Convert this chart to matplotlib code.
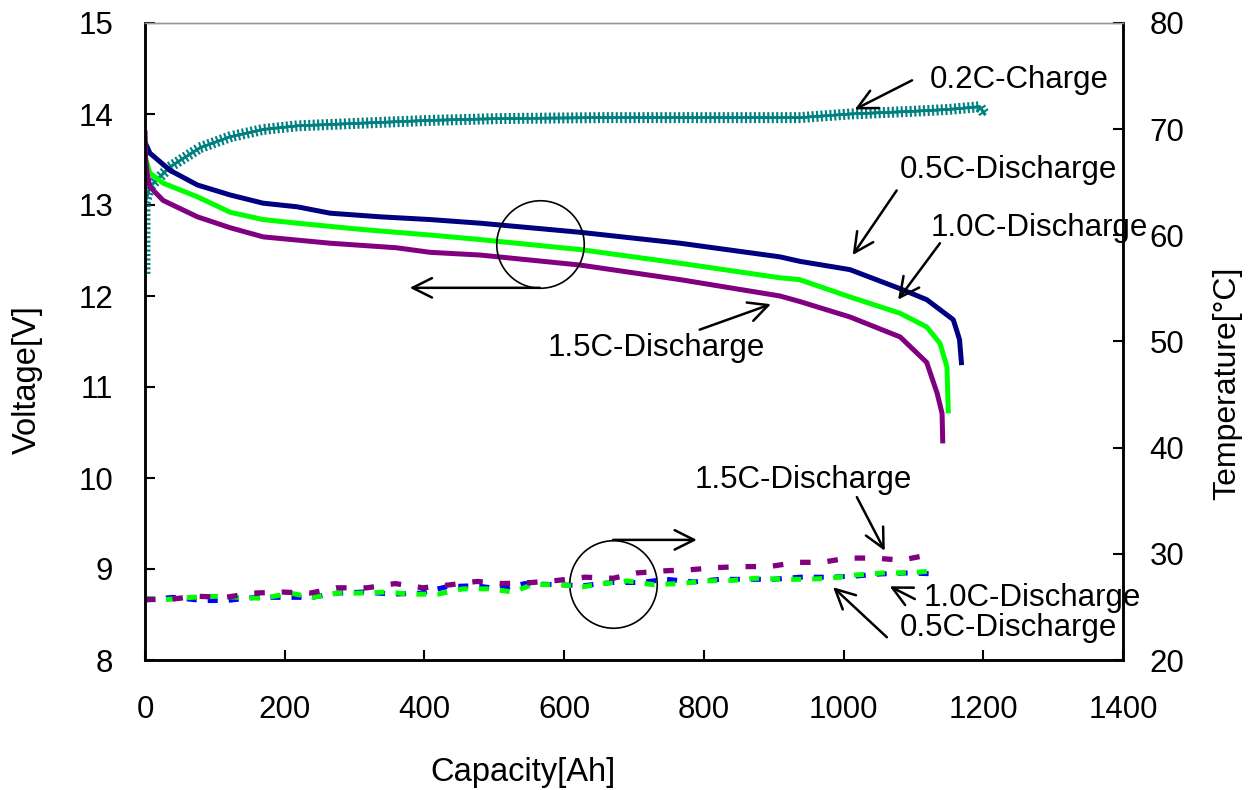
import matplotlib
matplotlib.use("Agg")
import matplotlib.pyplot as plt
import matplotlib.patheffects as pe

plt.rcParams['font.family'] = ['Liberation Sans', 'DejaVu Sans']

# Voltage curves (capacity [Ah], voltage [V])
chg_cap = [0, 0, 0, 7, 36, 79, 122, 169, 218, 312, 408, 508, 651, 800, 937, 1009, 1100, 1150, 1195, 1202]
chg_v = [12.23, 12.91, 13.02, 13.2, 13.42, 13.63, 13.75, 13.83, 13.87, 13.90, 13.93, 13.95, 13.96, 13.96,
         13.96, 14.0, 14.03, 14.05, 14.08, 14.0]

d05_cap = [0, 7, 36, 75, 122, 169, 218, 265, 337, 408, 480, 623, 766, 909, 938, 1009, 1081, 1119, 1157, 1162, 1166, 1169]
d05_v = [13.69, 13.57, 13.38, 13.22, 13.11, 13.02, 12.98, 12.91, 12.87, 12.84, 12.80, 12.70, 12.58, 12.43, 12.38,
         12.29, 12.08, 11.96, 11.74, 11.62, 11.52, 11.24]

d10_cap = [0, 7, 26, 75, 122, 169, 218, 312, 408, 480, 623, 766, 909, 937, 1009, 1081, 1119, 1138, 1148, 1150]
d10_v = [13.53, 13.35, 13.24, 13.09, 12.92, 12.84, 12.80, 12.73, 12.67, 12.62, 12.51, 12.36, 12.20, 12.18, 11.99,
         11.81, 11.66, 11.48, 11.22, 10.71]

d15_cap = [0, 1, 3, 7, 26, 75, 122, 169, 265, 360, 408, 480, 623, 766, 909, 937, 1009, 1081, 1119, 1134, 1141, 1142]
d15_v = [13.82, 13.5, 13.35, 13.2, 13.05, 12.87, 12.75, 12.65, 12.58, 12.53, 12.48, 12.45, 12.34, 12.18, 12.0,
         11.94, 11.77, 11.55, 11.27, 10.93, 10.71, 10.38]

# Temperature curves (capacity [Ah], temperature [°C])
t15_cap = [0, 33, 75, 115, 155, 196, 236, 275, 318, 358, 398, 439, 475, 512, 554, 591, 630, 670, 704, 744, 780,
           816, 854, 894, 933, 969, 1006, 1045, 1083, 1121]
t15_t = [25.7, 25.7, 26.0, 25.9, 26.3, 26.4, 26.3, 26.8, 26.8, 27.2, 26.8, 27.1, 27.4, 27.2, 27.3, 27.5, 27.8,
         27.7, 28.2, 28.4, 28.5, 28.7, 28.8, 28.8, 29.2, 29.2, 29.6, 29.6, 29.4, 29.9]

t05_cap = [0, 40, 82, 117, 157, 198, 239, 275, 312, 355, 394, 432, 472, 508, 544, 587, 627, 668, 708, 747, 785,
           823, 862, 899, 937, 980, 1016, 1052, 1092, 1134]
t05_t = [25.65, 25.9, 25.6, 25.6, 25.9, 25.9, 25.9, 26.3, 26.4, 26.2, 26.3, 26.9, 27.0, 26.7, 27.2, 27.1, 27.0,
         27.3, 27.3, 27.6, 27.35, 27.6, 27.6, 27.6, 27.8, 27.8, 27.9, 28.1, 28.2, 28.1]

t10_cap = [0, 31, 67, 100, 136, 169, 208, 239, 275, 308, 346, 379, 419, 455, 494, 527, 554, 591, 627, 656, 690,
           727, 766, 804, 842, 876, 913, 948, 980, 1016, 1056, 1095, 1128, 1134]
t10_t = [25.8, 25.7, 25.9, 26.0, 25.9, 25.8, 26.3, 25.9, 26.3, 26.3, 26.4, 26.2, 26.2, 26.7, 26.7, 26.4, 27.1,
         27.1, 26.9, 27.2, 27.45, 27.1, 27.2, 27.45, 27.5, 27.7, 27.6, 27.6, 27.7, 28.0, 28.2, 28.2, 28.4, 28.3]

fig = plt.figure(figsize=(12.49, 7.9), dpi=100)
ax = fig.add_axes([145 / 1249, 1 - 660 / 790, 978 / 1249, 637 / 790])
ax2 = ax.twinx()

# voltage
ax.plot(chg_cap, chg_v, color='#008080', lw=1.8,
        path_effects=[pe.withTickedStroke(angle=90, spacing=3.2, length=1.0, linewidth=1.5),
                      pe.withTickedStroke(angle=-90, spacing=3.2, length=1.0, linewidth=1.5),
                      pe.Normal()])
ax.plot(d05_cap, d05_v, color='#000080', lw=3.6, solid_capstyle='butt')
ax.plot(d10_cap, d10_v, color='#00FF00', lw=3.6, solid_capstyle='butt')
ax.plot(d15_cap, d15_v, color='#800080', lw=3.6, solid_capstyle='butt')

# temperature
ax2.plot(t05_cap, t05_t, color='#0000FF', lw=3.6, dashes=(2, 2.2))
ax2.plot(t10_cap, t10_t, color='#00FF00', lw=3.6, dashes=(2, 2.2))
ax2.plot(t15_cap, t15_t, color='#800080', lw=3.8, dashes=(2, 3.2))

ax.set_xlim(0, 1400)
ax.set_ylim(8, 15)
ax2.set_ylim(20, 80)
ax.set_xticks(range(0, 1401, 200))
ax.set_yticks(range(8, 16))
ax2.set_yticks(range(20, 81, 10))

ax.tick_params(axis='x', direction='in', length=7, width=1.5, labelsize=22.5, pad=25)
ax.tick_params(axis='y', direction='in', length=7, width=1.5, labelsize=22.5, pad=23)
ax2.tick_params(axis='y', direction='in', length=7, width=1.5, labelsize=22.5, pad=19)

for a in (ax, ax2):
    for s in ('left', 'bottom', 'right'):
        a.spines[s].set_linewidth(1.8)
    a.spines['top'].set_color('#999999')
    a.spines['top'].set_linewidth(1.0)

fig.text(27 / 1249, 1 - 380 / 790, 'Voltage[V]', rotation=90, ha='center', va='center', fontsize=23.5)
fig.text(1227 / 1249, 1 - 383 / 790, 'Temperature[°C]', rotation=90, ha='center', va='center', fontsize=23)
fig.text(523 / 1249, 1 - 772 / 790, 'Capacity[Ah]', ha='center', va='center', fontsize=23.5)

arrow = dict(arrowstyle='->,head_length=0.7,head_width=0.35', color='black', lw=1.8,
             mutation_scale=20, shrinkA=0, shrinkB=0)

# label arrows: (tail, tip)
arrows = [
    ((1098, 14.37), (1016, 14.05)),
    ((1076, 13.16), (1013, 12.45)),
    ((1138, 12.58), (1078, 11.96)),
    ((794, 11.63), (896, 11.91)),
    ((565, 12.09), (379, 12.09)),
    ((1019, 9.79), (1059, 9.20)),
    ((670, 9.32), (790, 9.32)),
    ((1102, 8.67), (1066, 8.81)),
    ((1062, 8.25), (985, 8.80)),
]
for tail, tip in arrows:
    ax.annotate('', xy=tip, xytext=tail, arrowprops=arrow, annotation_clip=False)

labels = [
    (1124, 14.37, '0.2C-Charge'),
    (1081, 13.38, '0.5C-Discharge'),
    (1124, 12.75, '1.0C-Discharge'),
    (577, 11.43, '1.5C-Discharge'),
    (787, 9.98, '1.5C-Discharge'),
    (1115, 8.68, '1.0C-Discharge'),
    (1081, 8.35, '0.5C-Discharge'),
]
for x, y, s in labels:
    ax.text(x, y, s, ha='left', va='center', fontsize=22.5, clip_on=False, zorder=5)

# circles
ax.plot([565], [12.57], 'o', ms=63, mfc='none', mec='black', mew=1.2)
ax.plot([670], [8.84], 'o', ms=63, mfc='none', mec='black', mew=1.2)

fig.savefig('out.png', dpi=100)
